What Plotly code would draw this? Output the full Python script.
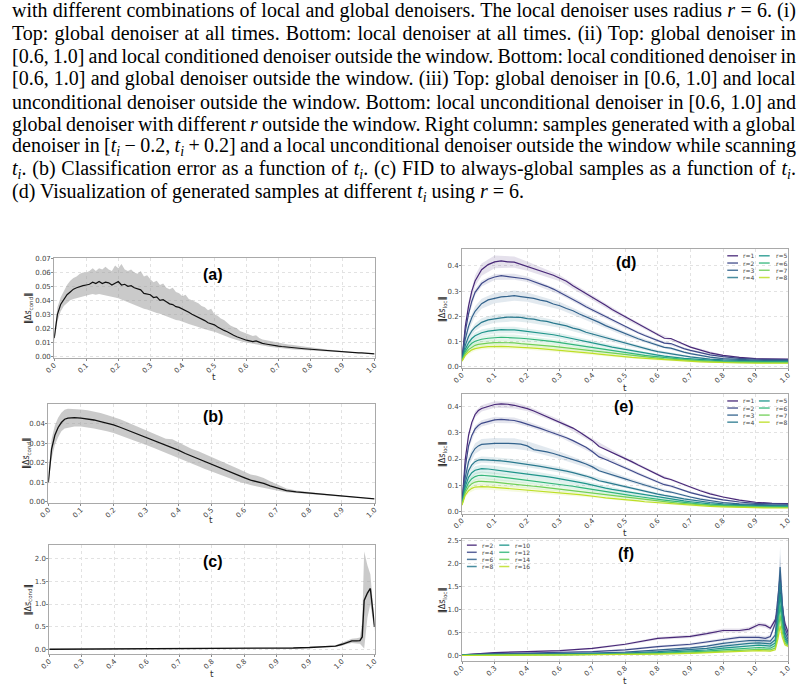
import plotly.graph_objects as go

W, H = 808, 692

# ---------------- caption text ----------------
TI = "<i>t</i><sub><i>i</i></sub>"
CAPTION_LINES = [
    "with different combinations of local and global denoisers. The local denoiser uses radius <i>r</i> = 6. (i)",
    "Top: global denoiser at all times. Bottom: local denoiser at all times. (ii) Top: global denoiser in",
    "[0.6, 1.0] and local conditioned denoiser outside the window. Bottom: local conditioned denoiser in",
    "[0.6, 1.0] and global denoiser outside the window. (iii) Top: global denoiser in [0.6, 1.0] and local",
    "unconditional denoiser outside the window. Bottom: local unconditional denoiser in [0.6, 1.0] and",
    "global denoiser with different <i>r</i> outside the window. Right column: samples generated with a global",
    "denoiser in [" + TI + " \u2212 0.2, " + TI + " + 0.2] and a local unconditional denoiser outside the window while scanning",
    TI + ". (b) Classification error as a function of " + TI + ". (c) FID to always-global samples as a function of " + TI + ".",
    "(d) Visualization of generated samples at different " + TI + " using <i>r</i> = 6.",
]
N_JUSTIFIED = 8          # all caption lines but the last are justified
JUSTIFY_RIGHT_PX = 804   # right edge of the justified text block

# ---------------- data ----------------
# panel (a): fine time grid
T_A = [0.00, 0.01, 0.02, 0.03, 0.04, 0.05, 0.06, 0.07, 0.08, 0.09,
       0.10, 0.11, 0.12, 0.13, 0.14, 0.15, 0.16, 0.17, 0.18, 0.19,
       0.20, 0.21, 0.22, 0.23, 0.24, 0.25, 0.26, 0.27, 0.28, 0.29,
       0.30, 0.31, 0.32, 0.33, 0.34, 0.35, 0.36, 0.37, 0.38, 0.39,
       0.40, 0.41, 0.42, 0.43, 0.44, 0.45, 0.46, 0.47, 0.48, 0.49,
       0.50, 0.51, 0.52, 0.53, 0.54, 0.55, 0.56, 0.57, 0.58, 0.59,
       0.60, 0.61, 0.62, 0.63, 0.64, 0.65, 0.66, 0.67, 0.68, 0.69,
       0.70, 0.71, 0.72, 0.73, 0.74, 0.75, 0.76, 0.77, 0.78, 0.79,
       0.80, 0.81, 0.82, 0.83, 0.84, 0.85, 0.86, 0.87, 0.88, 0.89,
       0.90, 0.91, 0.92, 0.93, 0.94, 0.95, 0.96, 0.97, 0.98, 0.99, 1.00]
A_MEAN = [0.013, 0.030, 0.037, 0.041, 0.044, 0.046, 0.048, 0.049, 0.050, 0.0505,
          0.051, 0.0515, 0.053, 0.052, 0.0535, 0.052, 0.053, 0.0525, 0.051, 0.052,
          0.0535, 0.051, 0.0515, 0.050, 0.0505, 0.049, 0.048, 0.0475, 0.045, 0.0445,
          0.044, 0.042, 0.0425, 0.040, 0.0405, 0.039, 0.0375, 0.037, 0.0355, 0.035,
          0.034, 0.0325, 0.0315, 0.030, 0.029, 0.028, 0.0265, 0.0255, 0.024, 0.0235,
          0.0225, 0.021, 0.0195, 0.0185, 0.0175, 0.016, 0.015, 0.014, 0.013, 0.012,
          0.0115, 0.011, 0.0105, 0.011, 0.0098, 0.0092, 0.0088, 0.0083, 0.008, 0.0076,
          0.0073, 0.0070, 0.0067, 0.0065, 0.0062, 0.0060, 0.0058, 0.0056, 0.0054, 0.0052,
          0.0050, 0.0048, 0.0046, 0.0044, 0.0042, 0.0040, 0.0038, 0.0037, 0.0035, 0.0034,
          0.0032, 0.0031, 0.0029, 0.0028, 0.0027, 0.0025, 0.0024, 0.0022, 0.0021, 0.0019, 0.0017]
A_UPPER = [0.016, 0.035, 0.042, 0.047, 0.051, 0.054, 0.056, 0.057, 0.059, 0.060,
           0.060, 0.061, 0.063, 0.061, 0.063, 0.062, 0.064, 0.062, 0.061, 0.065,
           0.063, 0.066, 0.062, 0.061, 0.062, 0.060, 0.059, 0.061, 0.057, 0.058,
           0.055, 0.053, 0.054, 0.051, 0.052, 0.049, 0.048, 0.049, 0.046, 0.045,
           0.043, 0.044, 0.041, 0.040, 0.039, 0.038, 0.036, 0.035, 0.033, 0.034,
           0.030, 0.029, 0.027, 0.026, 0.024, 0.022, 0.021, 0.020, 0.018, 0.017,
           0.016, 0.015, 0.0145, 0.015, 0.013, 0.012, 0.0115, 0.011, 0.0105, 0.010,
           0.0095, 0.0090, 0.0088, 0.0085, 0.0082, 0.0078, 0.0075, 0.0072, 0.0069, 0.0066,
           0.0064, 0.0060, 0.0057, 0.0054, 0.0051, 0.0048, 0.0046, 0.0044, 0.0041, 0.0039,
           0.0037, 0.0035, 0.0033, 0.0031, 0.0030, 0.0028, 0.0026, 0.0024, 0.0023, 0.0021, 0.0019]
A_LOWER = [0.010, 0.025, 0.032, 0.036, 0.038, 0.040, 0.041, 0.042, 0.0425, 0.043,
           0.0435, 0.044, 0.0445, 0.044, 0.0445, 0.044, 0.043, 0.043, 0.0425, 0.042,
           0.0415, 0.041, 0.040, 0.039, 0.038, 0.037, 0.0355, 0.035, 0.034, 0.0335,
           0.033, 0.032, 0.031, 0.0305, 0.0295, 0.029, 0.028, 0.027, 0.026, 0.0255,
           0.025, 0.024, 0.023, 0.022, 0.0215, 0.021, 0.020, 0.019, 0.0185, 0.018,
           0.0175, 0.0165, 0.0155, 0.015, 0.014, 0.013, 0.0123, 0.0115, 0.011, 0.0102,
           0.0095, 0.0091, 0.0087, 0.0084, 0.0081, 0.0077, 0.0073, 0.0069, 0.0065, 0.0062,
           0.0058, 0.0056, 0.0054, 0.0052, 0.0050, 0.0048, 0.0046, 0.0045, 0.0043, 0.0041,
           0.0040, 0.0038, 0.0037, 0.0036, 0.0034, 0.0033, 0.0032, 0.0031, 0.0030, 0.0029,
           0.0028, 0.0027, 0.0026, 0.0025, 0.0024, 0.0022, 0.0021, 0.0019, 0.0018, 0.0016, 0.0015]

# shared time grid for panels (b), (d), (e)
T = [0, 0.005, 0.01, 0.02, 0.03, 0.04, 0.05, 0.06,
     0.08, 0.10, 0.12, 0.14, 0.16, 0.18, 0.20, 0.22, 0.24, 0.26, 0.28, 0.30,
     0.32, 0.34, 0.36, 0.38, 0.40, 0.42, 0.44, 0.46, 0.48, 0.50,
     0.52, 0.54, 0.56, 0.58, 0.60, 0.62, 0.64, 0.66, 0.68, 0.70,
     0.73, 0.76, 0.80, 0.85, 0.90, 0.95, 1.00]

B_MEAN = [0.010, 0.020, 0.027, 0.034, 0.038, 0.0405, 0.0422, 0.0427,
          0.0430, 0.0428, 0.0424, 0.0418, 0.0410, 0.0402, 0.0393, 0.0381, 0.0368, 0.0355, 0.0342, 0.0328,
          0.0315, 0.0302, 0.0288, 0.0278, 0.0263, 0.0247, 0.0233, 0.0219, 0.0205, 0.0192,
          0.0178, 0.0165, 0.0152, 0.0138, 0.0124, 0.0111, 0.0104, 0.0094, 0.0082, 0.0072,
          0.0058, 0.0051, 0.0045, 0.0037, 0.0029, 0.0022, 0.0016]
B_LOWER = [0.008, 0.016, 0.022, 0.029, 0.033, 0.036, 0.0375, 0.038,
           0.0385, 0.0385, 0.0380, 0.0375, 0.0368, 0.0360, 0.0352, 0.0340, 0.0328, 0.0316, 0.0303, 0.0290,
           0.0278, 0.0265, 0.0252, 0.0240, 0.0226, 0.0210, 0.0196, 0.0182, 0.0168, 0.0155,
           0.0142, 0.0130, 0.0118, 0.0106, 0.0095, 0.0086, 0.0079, 0.0071, 0.0064, 0.0058,
           0.0049, 0.0045, 0.0041, 0.0034, 0.0027, 0.0021, 0.0015]
B_UPPER = [0.012, 0.024, 0.032, 0.039, 0.043, 0.0455, 0.047, 0.0475,
           0.0475, 0.0472, 0.0468, 0.0462, 0.0453, 0.0444, 0.0434, 0.0422, 0.0408, 0.0394, 0.0380, 0.0366,
           0.0352, 0.0339, 0.0322, 0.0320, 0.0302, 0.0285, 0.0270, 0.0258, 0.0244, 0.0230,
           0.0215, 0.0200, 0.0186, 0.0171, 0.0155, 0.0140, 0.0134, 0.0122, 0.0105, 0.0089,
           0.0068, 0.0058, 0.0050, 0.0040, 0.0031, 0.0024, 0.0017]

# panels (c) and (f): non-uniform tick positions (index axis)
X_TICKPOS = [0, 1, 2, 3, 4, 5, 6, 7, 8, 9, 10]
X_TICKTEXT = ["0.0", "0.3", "0.4", "0.6", "0.7", "0.8", "0.8", "0.9", "0.9", "1.0", "1.0"]

X_C = [0, 1, 2, 3, 4, 5, 6, 7, 7.5, 8, 8.5, 8.8, 9.0, 9.15, 9.3, 9.45, 9.55, 9.62, 9.68, 9.78, 9.87, 10]
C_MEAN = [0.010, 0.012, 0.014, 0.016, 0.019, 0.023, 0.028, 0.035, 0.040, 0.050, 0.065, 0.080,
          0.120, 0.160, 0.195, 0.195, 0.200, 0.280, 1.080, 1.240, 1.340, 0.500]
C_LOWER = [0.005, 0.007, 0.009, 0.011, 0.013, 0.016, 0.020, 0.026, 0.030, 0.038, 0.050, 0.062,
           0.090, 0.125, 0.150, 0.140, 0.130, 0.080, 0.030, 0.700, 1.000, 0.400]
C_UPPER = [0.015, 0.017, 0.019, 0.021, 0.025, 0.030, 0.036, 0.044, 0.050, 0.062, 0.080, 0.098,
           0.150, 0.195, 0.240, 0.250, 0.270, 0.600, 2.150, 1.850, 1.650, 0.600]

# panel (d): mean curves per radius
D_LABELS = ["r=1", "r=2", "r=3", "r=4", "r=5", "r=6", "r=7", "r=8"]
D_MEAN = [
    [0.03, 0.10, 0.16, 0.24, 0.30, 0.34, 0.365, 0.385,
     0.405, 0.416, 0.420, 0.416, 0.415, 0.406, 0.399, 0.390, 0.382, 0.372, 0.363, 0.351,
     0.339, 0.321, 0.306, 0.289, 0.274, 0.259, 0.244, 0.227, 0.213, 0.196,
     0.184, 0.168, 0.155, 0.141, 0.128, 0.113, 0.112, 0.099, 0.089, 0.078,
     0.066, 0.055, 0.045, 0.037, 0.032, 0.030, 0.030],
    [0.03, 0.09, 0.14, 0.21, 0.26, 0.295, 0.315, 0.33,
     0.347, 0.356, 0.361, 0.358, 0.357, 0.351, 0.347, 0.338, 0.331, 0.319, 0.308, 0.295,
     0.282, 0.266, 0.253, 0.238, 0.225, 0.210, 0.197, 0.184, 0.171, 0.158,
     0.147, 0.135, 0.124, 0.114, 0.104, 0.094, 0.092, 0.081, 0.072, 0.065,
     0.055, 0.047, 0.040, 0.033, 0.030, 0.029, 0.028],
    [0.03, 0.07, 0.11, 0.16, 0.195, 0.22, 0.237, 0.25,
     0.265, 0.272, 0.277, 0.279, 0.282, 0.278, 0.276, 0.271, 0.264, 0.259, 0.249, 0.242,
     0.231, 0.222, 0.209, 0.199, 0.187, 0.176, 0.163, 0.152, 0.141, 0.130,
     0.120, 0.111, 0.102, 0.093, 0.085, 0.077, 0.074, 0.065, 0.058, 0.052,
     0.044, 0.038, 0.032, 0.028, 0.026, 0.025, 0.025],
    [0.03, 0.06, 0.085, 0.12, 0.142, 0.157, 0.168, 0.176,
     0.186, 0.191, 0.194, 0.197, 0.196, 0.196, 0.191, 0.189, 0.183, 0.180, 0.173, 0.168,
     0.162, 0.153, 0.147, 0.137, 0.130, 0.122, 0.115, 0.106, 0.099, 0.092,
     0.085, 0.078, 0.072, 0.066, 0.060, 0.055, 0.053, 0.047, 0.043, 0.039,
     0.034, 0.030, 0.027, 0.024, 0.023, 0.022, 0.022],
    [0.028, 0.05, 0.07, 0.095, 0.112, 0.123, 0.13, 0.135,
     0.141, 0.145, 0.147, 0.146, 0.146, 0.143, 0.140, 0.138, 0.134, 0.130, 0.127, 0.122,
     0.117, 0.112, 0.107, 0.100, 0.095, 0.089, 0.084, 0.078, 0.073, 0.068,
     0.063, 0.058, 0.054, 0.050, 0.046, 0.042, 0.040, 0.036, 0.033, 0.031,
     0.028, 0.025, 0.023, 0.021, 0.020, 0.020, 0.020],
    [0.026, 0.045, 0.06, 0.08, 0.093, 0.101, 0.106, 0.109,
     0.113, 0.116, 0.117, 0.116, 0.116, 0.113, 0.111, 0.109, 0.106, 0.103, 0.100, 0.096,
     0.092, 0.089, 0.084, 0.080, 0.076, 0.072, 0.067, 0.063, 0.059, 0.055,
     0.051, 0.048, 0.045, 0.042, 0.039, 0.036, 0.034, 0.031, 0.029, 0.027,
     0.024, 0.022, 0.020, 0.019, 0.018, 0.018, 0.018],
    [0.024, 0.04, 0.052, 0.068, 0.078, 0.085, 0.089, 0.091,
     0.094, 0.096, 0.096, 0.095, 0.095, 0.092, 0.090, 0.089, 0.086, 0.084, 0.081, 0.078,
     0.075, 0.073, 0.069, 0.066, 0.063, 0.060, 0.056, 0.053, 0.050, 0.047,
     0.044, 0.041, 0.039, 0.036, 0.034, 0.031, 0.030, 0.028, 0.026, 0.024,
     0.022, 0.020, 0.018, 0.017, 0.016, 0.016, 0.016],
    [0.022, 0.035, 0.045, 0.058, 0.067, 0.072, 0.075, 0.077,
     0.080, 0.081, 0.081, 0.080, 0.079, 0.078, 0.076, 0.074, 0.072, 0.070, 0.068, 0.066,
     0.063, 0.061, 0.058, 0.055, 0.053, 0.050, 0.047, 0.045, 0.042, 0.040,
     0.037, 0.035, 0.033, 0.031, 0.029, 0.027, 0.026, 0.024, 0.022, 0.021,
     0.019, 0.018, 0.016, 0.015, 0.014, 0.014, 0.014],
]
# band half-widths sampled at BAND_T (a subset of T)
BAND_T = [0, 0.01, 0.02, 0.04, 0.06, 0.10, 0.16, 0.20, 0.30, 0.40, 0.50, 0.60, 0.70, 0.80, 0.90, 1.00]
D_SD = [
    [0.005, 0.015, 0.020, 0.022, 0.024, 0.025, 0.022, 0.018, 0.012, 0.010, 0.008, 0.006, 0.004, 0.003, 0.002, 0.002],
    [0.004, 0.012, 0.012, 0.012, 0.012, 0.012, 0.012, 0.011, 0.009, 0.008, 0.006, 0.005, 0.004, 0.003, 0.002, 0.002],
    [0.004, 0.015, 0.018, 0.020, 0.020, 0.020, 0.020, 0.018, 0.015, 0.012, 0.009, 0.006, 0.004, 0.003, 0.002, 0.002],
    [0.004, 0.012, 0.014, 0.015, 0.016, 0.016, 0.016, 0.015, 0.013, 0.011, 0.008, 0.006, 0.004, 0.003, 0.002, 0.002],
    [0.004, 0.010, 0.012, 0.013, 0.013, 0.013, 0.013, 0.012, 0.011, 0.009, 0.007, 0.005, 0.004, 0.003, 0.002, 0.002],
    [0.003, 0.009, 0.011, 0.012, 0.012, 0.012, 0.012, 0.011, 0.010, 0.008, 0.006, 0.005, 0.003, 0.002, 0.002, 0.002],
    [0.003, 0.008, 0.010, 0.010, 0.010, 0.010, 0.010, 0.010, 0.009, 0.007, 0.005, 0.004, 0.003, 0.002, 0.002, 0.002],
    [0.003, 0.007, 0.008, 0.009, 0.009, 0.009, 0.009, 0.009, 0.008, 0.006, 0.005, 0.004, 0.003, 0.002, 0.002, 0.002],
]

# panel (e)
E_MEAN = [
    [0.03, 0.12, 0.20, 0.29, 0.34, 0.37, 0.385, 0.393,
     0.402, 0.408, 0.410, 0.409, 0.405, 0.399, 0.392, 0.383, 0.372, 0.362, 0.352, 0.342,
     0.331, 0.318, 0.303, 0.288, 0.270, 0.248, 0.237, 0.225, 0.213, 0.202,
     0.190, 0.177, 0.165, 0.153, 0.141, 0.128, 0.122, 0.112, 0.101, 0.092,
     0.079, 0.067, 0.055, 0.043, 0.035, 0.031, 0.030],
    [0.03, 0.10, 0.17, 0.25, 0.29, 0.315, 0.328, 0.336,
     0.344, 0.349, 0.351, 0.350, 0.347, 0.341, 0.334, 0.326, 0.317, 0.308, 0.300, 0.291,
     0.281, 0.270, 0.258, 0.245, 0.228, 0.208, 0.198, 0.188, 0.177, 0.166,
     0.155, 0.144, 0.133, 0.122, 0.112, 0.102, 0.097, 0.088, 0.079, 0.072,
     0.062, 0.053, 0.044, 0.036, 0.031, 0.029, 0.028],
    [0.03, 0.08, 0.13, 0.19, 0.22, 0.24, 0.25, 0.256,
     0.259, 0.260, 0.260, 0.260, 0.259, 0.257, 0.250, 0.236, 0.232, 0.227, 0.221, 0.214,
     0.207, 0.199, 0.190, 0.181, 0.170, 0.155, 0.148, 0.140, 0.132, 0.124,
     0.116, 0.108, 0.100, 0.093, 0.086, 0.078, 0.074, 0.067, 0.060, 0.055,
     0.047, 0.041, 0.034, 0.029, 0.026, 0.025, 0.024],
    [0.03, 0.07, 0.11, 0.155, 0.178, 0.19, 0.196, 0.198,
     0.197, 0.195, 0.193, 0.190, 0.187, 0.184, 0.180, 0.176, 0.172, 0.168, 0.164, 0.159,
     0.154, 0.148, 0.142, 0.135, 0.127, 0.117, 0.112, 0.106, 0.100, 0.094,
     0.088, 0.082, 0.077, 0.071, 0.066, 0.061, 0.058, 0.053, 0.048, 0.044,
     0.038, 0.034, 0.029, 0.025, 0.023, 0.022, 0.021],
    [0.03, 0.065, 0.095, 0.13, 0.148, 0.157, 0.161, 0.163,
     0.162, 0.159, 0.156, 0.153, 0.150, 0.147, 0.144, 0.140, 0.137, 0.133, 0.129, 0.125,
     0.121, 0.116, 0.111, 0.106, 0.100, 0.093, 0.089, 0.084, 0.080, 0.076,
     0.071, 0.067, 0.062, 0.058, 0.054, 0.050, 0.047, 0.043, 0.040, 0.037,
     0.032, 0.029, 0.025, 0.022, 0.020, 0.019, 0.019],
    [0.028, 0.058, 0.082, 0.11, 0.125, 0.133, 0.137, 0.138,
     0.137, 0.134, 0.131, 0.128, 0.125, 0.122, 0.119, 0.116, 0.113, 0.110, 0.107, 0.104,
     0.100, 0.096, 0.092, 0.088, 0.084, 0.078, 0.075, 0.071, 0.067, 0.064,
     0.060, 0.057, 0.053, 0.049, 0.046, 0.043, 0.040, 0.037, 0.034, 0.032,
     0.028, 0.025, 0.022, 0.020, 0.018, 0.017, 0.017],
    [0.026, 0.052, 0.072, 0.094, 0.106, 0.112, 0.115, 0.115,
     0.114, 0.112, 0.109, 0.106, 0.104, 0.101, 0.099, 0.096, 0.094, 0.091, 0.089, 0.086,
     0.083, 0.080, 0.077, 0.074, 0.071, 0.066, 0.063, 0.060, 0.057, 0.054,
     0.051, 0.048, 0.045, 0.042, 0.039, 0.037, 0.035, 0.032, 0.030, 0.028,
     0.025, 0.023, 0.020, 0.018, 0.016, 0.016, 0.015],
    [0.024, 0.046, 0.062, 0.079, 0.088, 0.093, 0.095, 0.095,
     0.094, 0.092, 0.090, 0.088, 0.086, 0.084, 0.082, 0.080, 0.078, 0.075, 0.073, 0.071,
     0.069, 0.066, 0.064, 0.061, 0.059, 0.055, 0.052, 0.050, 0.047, 0.045,
     0.042, 0.040, 0.037, 0.035, 0.033, 0.031, 0.029, 0.027, 0.025, 0.023,
     0.021, 0.019, 0.017, 0.015, 0.014, 0.013, 0.013],
]
E_SD = [
    [0.004, 0.012, 0.012, 0.012, 0.012, 0.012, 0.012, 0.010, 0.008, 0.007, 0.006, 0.005, 0.004, 0.003, 0.002, 0.002],
    [0.004, 0.012, 0.012, 0.012, 0.012, 0.012, 0.011, 0.010, 0.008, 0.007, 0.006, 0.005, 0.004, 0.003, 0.002, 0.002],
    [0.004, 0.015, 0.020, 0.020, 0.020, 0.020, 0.020, 0.018, 0.014, 0.010, 0.008, 0.006, 0.004, 0.003, 0.002, 0.002],
    [0.004, 0.010, 0.012, 0.012, 0.012, 0.012, 0.012, 0.011, 0.010, 0.008, 0.006, 0.005, 0.004, 0.003, 0.002, 0.002],
    [0.004, 0.012, 0.014, 0.015, 0.015, 0.015, 0.014, 0.013, 0.011, 0.009, 0.007, 0.005, 0.004, 0.003, 0.002, 0.002],
    [0.004, 0.011, 0.013, 0.014, 0.014, 0.014, 0.013, 0.012, 0.010, 0.008, 0.006, 0.005, 0.004, 0.003, 0.002, 0.002],
    [0.003, 0.010, 0.012, 0.012, 0.012, 0.012, 0.012, 0.011, 0.009, 0.007, 0.006, 0.004, 0.003, 0.002, 0.002, 0.002],
    [0.003, 0.009, 0.010, 0.011, 0.011, 0.011, 0.010, 0.010, 0.008, 0.006, 0.005, 0.004, 0.003, 0.002, 0.002, 0.002],
]

# panel (f)
F_LABELS = ["r=2", "r=4", "r=6", "r=8", "r=10", "r=12", "r=14", "r=16"]
X_F = [0, 0.5, 1, 2, 3, 4, 5, 6, 7, 7.5, 8, 8.5, 8.8, 9.1, 9.3, 9.45, 9.6, 9.68, 9.75, 9.82, 9.9, 10]
F_MEAN = [
    [0.02, 0.05, 0.07, 0.09, 0.11, 0.16, 0.25, 0.38, 0.42, 0.48, 0.55, 0.55, 0.58, 0.68, 0.66, 0.60, 0.78, 1.00, 1.40, 1.00, 0.70, 0.50],
    [0.02, 0.035, 0.05, 0.06, 0.07, 0.09, 0.13, 0.20, 0.25, 0.30, 0.36, 0.40, 0.40, 0.40, 0.38, 0.42, 0.70, 1.20, 1.75, 1.10, 0.60, 0.42],
    [0.015, 0.03, 0.04, 0.045, 0.05, 0.06, 0.08, 0.12, 0.17, 0.21, 0.27, 0.31, 0.33, 0.33, 0.32, 0.32, 0.45, 1.10, 1.93, 1.10, 0.50, 0.35],
    [0.012, 0.025, 0.03, 0.035, 0.04, 0.045, 0.06, 0.09, 0.13, 0.16, 0.21, 0.25, 0.27, 0.28, 0.27, 0.26, 0.35, 0.90, 1.60, 0.90, 0.42, 0.30],
    [0.01, 0.02, 0.025, 0.028, 0.032, 0.036, 0.046, 0.07, 0.10, 0.125, 0.165, 0.20, 0.22, 0.23, 0.22, 0.21, 0.28, 0.75, 1.35, 0.75, 0.37, 0.27],
    [0.01, 0.017, 0.02, 0.023, 0.026, 0.03, 0.037, 0.055, 0.08, 0.10, 0.13, 0.16, 0.175, 0.18, 0.17, 0.165, 0.22, 0.60, 1.10, 0.62, 0.32, 0.24],
    [0.008, 0.014, 0.017, 0.019, 0.021, 0.024, 0.03, 0.044, 0.063, 0.08, 0.10, 0.125, 0.138, 0.14, 0.135, 0.13, 0.17, 0.48, 0.88, 0.50, 0.28, 0.22],
    [0.006, 0.011, 0.013, 0.015, 0.017, 0.019, 0.024, 0.035, 0.05, 0.063, 0.08, 0.10, 0.11, 0.11, 0.105, 0.10, 0.13, 0.36, 0.65, 0.40, 0.24, 0.20],
]
F_SD = [
    [0.01, 0.01, 0.012, 0.012, 0.015, 0.02, 0.025, 0.03, 0.035, 0.04, 0.045, 0.045, 0.045, 0.05, 0.05, 0.05, 0.08, 0.2, 0.4, 0.2, 0.1, 0.06],
    [0.008, 0.008, 0.01, 0.01, 0.012, 0.015, 0.02, 0.025, 0.03, 0.035, 0.04, 0.04, 0.04, 0.045, 0.045, 0.045, 0.07, 0.2, 0.45, 0.2, 0.1, 0.05],
    [0.006, 0.006, 0.008, 0.008, 0.01, 0.012, 0.015, 0.02, 0.025, 0.03, 0.035, 0.035, 0.035, 0.04, 0.04, 0.04, 0.06, 0.2, 0.45, 0.2, 0.08, 0.05],
    [0.005, 0.005, 0.006, 0.006, 0.008, 0.01, 0.012, 0.016, 0.02, 0.025, 0.03, 0.03, 0.03, 0.035, 0.035, 0.035, 0.05, 0.16, 0.35, 0.16, 0.07, 0.04],
    [0.004, 0.004, 0.005, 0.005, 0.006, 0.008, 0.01, 0.013, 0.017, 0.02, 0.025, 0.025, 0.025, 0.03, 0.03, 0.03, 0.04, 0.14, 0.3, 0.14, 0.06, 0.035],
    [0.004, 0.004, 0.004, 0.004, 0.005, 0.006, 0.008, 0.011, 0.014, 0.017, 0.02, 0.022, 0.022, 0.025, 0.025, 0.025, 0.035, 0.12, 0.25, 0.12, 0.05, 0.03],
    [0.003, 0.003, 0.003, 0.003, 0.004, 0.005, 0.007, 0.009, 0.012, 0.014, 0.017, 0.019, 0.019, 0.02, 0.02, 0.02, 0.03, 0.1, 0.2, 0.1, 0.045, 0.03],
    [0.003, 0.003, 0.003, 0.003, 0.003, 0.004, 0.005, 0.007, 0.01, 0.012, 0.014, 0.016, 0.016, 0.017, 0.017, 0.017, 0.025, 0.08, 0.15, 0.08, 0.04, 0.025],
]

X_TICKS_T = [0.0, 0.1, 0.2, 0.3, 0.4, 0.5, 0.6, 0.7, 0.8, 0.9, 1.0]
X_TICKS_T_TEXT = ["0.0", "0.1", "0.2", "0.3", "0.4", "0.5", "0.6", "0.7", "0.8", "0.9", "1.0"]

COLORS = ["#482878", "#3f4a8a", "#33638d", "#29798e", "#1f958b", "#33b67a", "#70cf57", "#bddf26"]


def rgba(hex_color, a):
    h = hex_color.lstrip("#")
    return "rgba(%d,%d,%d,%.3f)" % (int(h[0:2], 16), int(h[2:4], 16), int(h[4:6], 16), a)


# ---------------- layout geometry (pixels) ----------------
PANELS = {
    # key: (axis suffix, left, right, top, bottom)
    "a": ("", 45, 371, 257, 358),
    "b": ("2", 39, 371, 404, 504),
    "c": ("3", 40, 371, 547, 657),
    "d": ("4", 460, 792, 248, 368),
    "e": ("5", 460, 792, 394, 515),
    "f": ("6", 460, 792, 540, 664),
}

fig = go.Figure()

GRID = "#e2e2e2"
SPINE = "#a9a9a9"
TICKFONT = dict(family="DejaVu Sans", size=7, color="#444444")


def axes_for(key, xrange_, yrange_, xtickvals, xticktext, ytickvals, yticktext):
    s, l, r, t, b = PANELS[key]
    common = dict(showline=True, mirror=True, linecolor=SPINE, linewidth=1,
                  showgrid=True, gridcolor=GRID, griddash="dot", gridwidth=0.8,
                  zeroline=False, ticks="outside", ticklen=2, tickwidth=0.8,
                  tickcolor="#8c8c8c", tickfont=TICKFONT, fixedrange=True)
    fig.layout["xaxis" + s] = dict(common, domain=[l / W, r / W], anchor="y" + s,
                                   range=xrange_, tickvals=xtickvals, ticktext=xticktext,
                                   tickangle=-45, ticklabelstandoff=-3)
    fig.layout["yaxis" + s] = dict(common, domain=[1 - b / H, 1 - t / H], anchor="x" + s,
                                   range=yrange_, tickvals=ytickvals, ticktext=yticktext,
                                   ticklabelstandoff=-1)


def ref(key):
    s = PANELS[key][0]
    return "x" + s, "y" + s


def band(key, xs, lo, hi, color):
    xr, yr = ref(key)
    fig.add_trace(go.Scatter(x=list(xs) + list(xs)[::-1], y=list(hi) + list(lo)[::-1],
                             fill="toself", fillcolor=color, line=dict(width=0),
                             mode="lines", hoverinfo="skip", showlegend=False,
                             xaxis=xr, yaxis=yr))


def line(key, xs, ys, color, width=1.3, name=None):
    xr, yr = ref(key)
    fig.add_trace(go.Scatter(x=xs, y=ys, mode="lines", line=dict(color=color, width=width),
                             showlegend=False, name=name, xaxis=xr, yaxis=yr))


# (a)
axes_for("a", [0, 1], [-0.0015, 0.07], X_TICKS_T, X_TICKS_T_TEXT,
         [0, 0.01, 0.02, 0.03, 0.04, 0.05, 0.06, 0.07],
         ["0.00", "0.01", "0.02", "0.03", "0.04", "0.05", "0.06", "0.07"])
band("a", T_A, A_LOWER, A_UPPER, "rgba(150,150,150,0.5)")
line("a", T_A, A_MEAN, "#111111", 1.2)

# (b)
axes_for("b", [0, 1], [-0.0005, 0.050], X_TICKS_T, X_TICKS_T_TEXT,
         [0, 0.01, 0.02, 0.03, 0.04], ["0.00", "0.01", "0.02", "0.03", "0.04"])
band("b", T, B_LOWER, B_UPPER, "rgba(150,150,150,0.5)")
line("b", T, B_MEAN, "#111111", 1.3)

# (c)
axes_for("c", [0, 10], [-0.1, 2.28], X_TICKPOS, X_TICKTEXT,
         [0, 0.5, 1.0, 1.5, 2.0], ["0.0", "0.5", "1.0", "1.5", "2.0"])
band("c", X_C, C_LOWER, C_UPPER, "rgba(150,150,150,0.5)")
line("c", X_C, C_MEAN, "#111111", 1.4)

# (d) and (e)
BAND_IDX = [T.index(v) for v in BAND_T]
for key, means, sds, yr_ in (("d", D_MEAN, D_SD, [-0.006, 0.465]),
                              ("e", E_MEAN, E_SD, [-0.009, 0.448])):
    axes_for(key, [0, 1], yr_, X_TICKS_T, X_TICKS_T_TEXT,
             [0, 0.1, 0.2, 0.3, 0.4], ["0.0", "0.1", "0.2", "0.3", "0.4"])
    for i in range(len(means)):
        m = means[i]
        bx = [T[j] for j in BAND_IDX]
        lo = [m[j] - sds[i][k] for k, j in enumerate(BAND_IDX)]
        hi = [m[j] + sds[i][k] for k, j in enumerate(BAND_IDX)]
        band(key, bx, lo, hi, rgba(COLORS[i], 0.14))
    for i in range(len(means)):
        line(key, T, means[i], COLORS[i], 1.2, D_LABELS[i])

# (f)
axes_for("f", [0, 10], [-0.12, 2.55], X_TICKPOS, X_TICKTEXT,
         [0, 0.5, 1.0, 1.5, 2.0, 2.5], ["0.0", "0.5", "1.0", "1.5", "2.0", "2.5"])
for i in range(len(F_MEAN)):
    lo = [v - s for v, s in zip(F_MEAN[i], F_SD[i])]
    hi = [v + s for v, s in zip(F_MEAN[i], F_SD[i])]
    band("f", X_F, lo, hi, rgba(COLORS[i], 0.14))
for i in range(len(F_MEAN)):
    line("f", X_F, F_MEAN[i], COLORS[i], 1.2, F_LABELS[i])

annotations = []
shapes = []

# caption lines (the first annotations; justified in the browser below)
for k, txt in enumerate(CAPTION_LINES):
    annotations.append(dict(text=txt, x=0, y=1 - (7 + 22.9 * k) / H, xref="paper", yref="paper",
                            xanchor="left", yanchor="middle", showarrow=False,
                            font=dict(family="Liberation Serif", size=20, color="#000000")))

# panel labels, axis titles
PANEL_LABEL_POS = {"a": (207, 273), "b": (207, 417), "c": (207, 563),
                   "d": (627, 261), "e": (625, 407), "f": (627, 555)}
XTITLE_Y = {"a": 377, "b": 521, "c": 677, "d": 388, "e": 534, "f": 684}
YTITLE_X = {"a": 20, "b": 18, "c": 19, "d": 441, "e": 441, "f": 441}
YTITLE_TXT = {"a": "cond", "b": "cond", "c": "cond", "d": "loc", "e": "loc", "f": "loc"}
for key, (s, l, r, t, b) in PANELS.items():
    lx, ly = PANEL_LABEL_POS[key]
    annotations.append(dict(text="<b>(%s)</b>" % key, x=lx / W, y=1 - ly / H, xref="paper",
                            yref="paper", xanchor="center", yanchor="middle", showarrow=False,
                            font=dict(family="Liberation Sans", size=16, color="#000000")))
    annotations.append(dict(text="t", x=((l + r) / 2) / W, y=1 - XTITLE_Y[key] / H,
                            xref="paper", yref="paper", xanchor="center", yanchor="middle",
                            showarrow=False,
                            font=dict(family="DejaVu Sans", size=9, color="#333333")))
    annotations.append(dict(text="<b>\u2016</b>\u0394s\u20d7<sub>%s</sub><b>\u2016</b>" % YTITLE_TXT[key],
                            x=YTITLE_X[key] / W, y=1 - ((t + b) / 2) / H,
                            xref="paper", yref="paper", xanchor="center", yanchor="middle",
                            textangle=-90, showarrow=False,
                            font=dict(family="DejaVu Sans", size=8, color="#333333")))

# legends (two columns of four) drawn inside panels d, e, f
LEGENDS = {
    "d": (D_LABELS, 0.813, 0.846, 0.855, 0.910, 0.943, 0.955, 0.947, 0.061),
    "e": (D_LABELS, 0.813, 0.846, 0.855, 0.910, 0.943, 0.955, 0.942, 0.059),
    "f": (F_LABELS, 0.015, 0.045, 0.054, 0.114, 0.145, 0.157, 0.946, 0.058),
}
for key, (labels, x0a, x1a, txa, x0b, x1b, txb, y0, dy) in LEGENDS.items():
    xr, yr = ref(key)
    for i, lab in enumerate(labels):
        col, row = divmod(i, 4)
        xa, xb, tx = (x0a, x1a, txa) if col == 0 else (x0b, x1b, txb)
        yy = y0 - row * dy
        shapes.append(dict(type="line", xref=xr + " domain", yref=yr + " domain",
                           x0=xa, x1=xb, y0=yy, y1=yy,
                           line=dict(color=rgba(COLORS[i], 0.85), width=1.5)))
        annotations.append(dict(text=lab, x=tx, y=yy, xref=xr + " domain", yref=yr + " domain",
                                xanchor="left", yanchor="middle", showarrow=False,
                                font=dict(family="DejaVu Sans", size=6, color="#444444")))

fig.update_layout(width=W, height=H, margin=dict(l=0, r=0, t=0, b=0),
                  paper_bgcolor="white", plot_bgcolor="white",
                  showlegend=False, annotations=annotations, shapes=shapes)

# justify the caption lines: widen word spacing so each line spans from its
# original left edge to JUSTIFY_RIGHT_PX, then shift it back to that left edge
JUSTIFY_JS = """
(function(){
  var gd = document.getElementById('{plot_id}');
  if (!gd) return;
  var N = __N__, RIGHT = __RIGHT__;
  for (var k = 0; k < N; k++) {
    var g = gd.querySelector('g.annotation[data-index="' + k + '"]');
    if (!g) continue;
    var t = g.querySelector('text.annotation-text');
    if (!t) continue;
    var n = (t.textContent.match(/[ \\u00a0]/g) || []).length;
    if (!n) continue;
    var L0 = t.getBoundingClientRect().left;
    var target = RIGHT - L0;
    var ws = 0;
    for (var it = 0; it < 5; it++) {
      var w = t.getBoundingClientRect().width;
      ws += (target - w) / n;
      t.style.wordSpacing = ws.toFixed(3) + 'px';
    }
    var dx = L0 - t.getBoundingClientRect().left;
    var tr = t.getAttribute('transform') || '';
    t.setAttribute('transform', (tr + ' translate(' + dx.toFixed(2) + ',0)').trim());
  }
})();
""".replace("__N__", str(N_JUSTIFIED)).replace("__RIGHT__", str(JUSTIFY_RIGHT_PX))

fig.write_html("out.html", post_script=JUSTIFY_JS)
